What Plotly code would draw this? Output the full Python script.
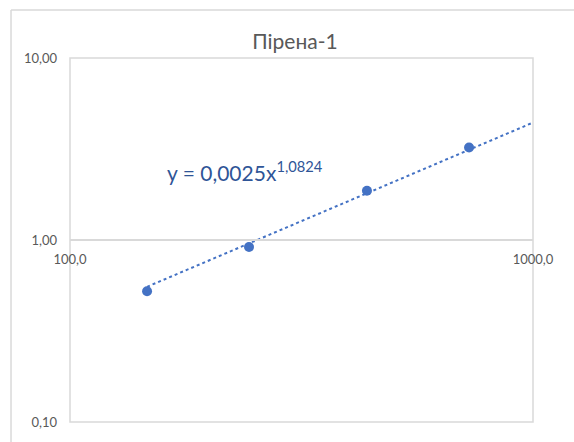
import numpy as np
import plotly.graph_objects as go

# Measured data points
x_vals = [146.7, 243.6, 437.9, 727.6]
y_vals = [0.523, 0.915, 1.865, 3.22]

# Power trendline coefficients: y = a * x^b
coef_a = 0.0025
coef_b = 1.0824

x_ticks = [100, 1000]
y_ticks = [0.1, 1, 10]

title_text = "Пірена-1"

blue = "#4472C4"
grey_txt = "#595959"
grid = "#D9D9D9"

trend_x = np.logspace(np.log10(min(x_vals)), 3, 120)
trend_y = coef_a * trend_x ** coef_b

fig = go.Figure()
fig.add_trace(go.Scatter(
    x=trend_x, y=trend_y, mode="lines",
    line=dict(color=blue, width=2, dash="dot"),
    hoverinfo="skip", showlegend=False,
))
fig.add_trace(go.Scatter(
    x=x_vals, y=y_vals, mode="markers",
    marker=dict(color=blue, size=10),
    showlegend=False,
))

eq_text = "y = {}x<sup>{}</sup>".format(
    f"{coef_a:.4f}".replace(".", ","), f"{coef_b:.4f}".replace(".", ","))

fig.add_annotation(
    x=np.log10(160), y=np.log10(2.4), xref="x", yref="y",
    text=eq_text, showarrow=False, xanchor="left", yanchor="middle",
    font=dict(family="Lato", size=21, color="#2F5597"),
)

# plot-area box and outer chart frame
fig.add_shape(type="rect", xref="x domain", yref="y domain",
              x0=0, x1=1, y0=0, y1=1, line=dict(color=grid, width=1.5), layer="below")
fig.add_shape(type="line", xref="paper", yref="paper",
              x0=-0.1274, x1=1.2, y0=1.1319, y1=1.1319, line=dict(color=grid, width=1.5))
fig.add_shape(type="line", xref="paper", yref="paper",
              x0=-0.1274, x1=-0.1274, y0=-0.2, y1=1.1319, line=dict(color=grid, width=1.5))

fig.update_layout(
    width=574, height=442,
    margin=dict(l=70, r=41, t=58, b=20),
    paper_bgcolor="white", plot_bgcolor="white",
    separators=", ",
    title=dict(text=title_text, x=295 / 574, xanchor="center",
               y=1 - 42 / 442, yanchor="middle",
               font=dict(family="Lato", size=21, color=grey_txt)),
    xaxis=dict(
        type="log", range=[2, 3], tickvals=x_ticks, tickformat=".1f",
        anchor="free", position=0.5, showline=True, linecolor=grid, linewidth=2,
        showgrid=False, zeroline=False, ticks="", ticklabelstandoff=7,
        tickfont=dict(family="Lato", size=13, color=grey_txt),
    ),
    yaxis=dict(
        type="log", range=[-1, 1], tickvals=y_ticks, tickformat=".2f",
        showgrid=False, zeroline=False, ticks="", ticklabelstandoff=12,
        tickfont=dict(family="Lato", size=13, color=grey_txt),
    ),
)

fig.write_html("out.html")
